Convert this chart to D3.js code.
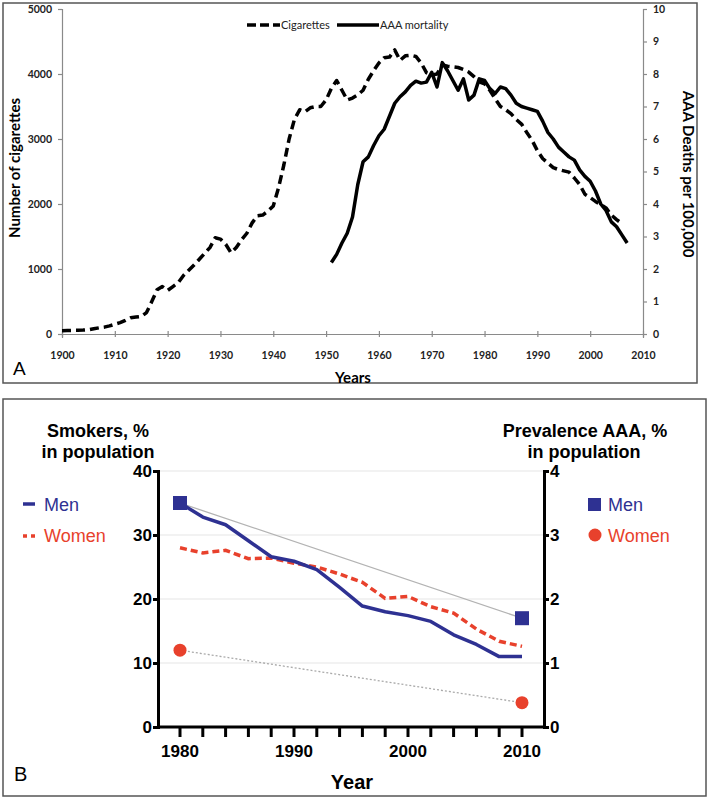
<!DOCTYPE html>
<html><head><meta charset="utf-8">
<script src="https://cdn.jsdelivr.net/npm/d3@7"></script>
<style>body{margin:0;background:#fff;} svg{display:block;}</style>
</head><body>
<svg id="c" width="709" height="800"></svg>
<script>
// ---------- Panel A data ----------
const cigStartYear = 1900;
const cigarettes = [50,52,55,57,60,65,80,95,105,125,150,175,210,250,260,270,330,500,680,730,
  670,730,790,900,980,1060,1150,1240,1330,1480,1460,1380,1250,1330,1450,1550,1710,1820,1830,1890,
  1970,2250,2600,3000,3300,3450,3420,3480,3500,3500,3600,3780,3900,3750,3600,3630,3680,3750,3920,4050,
  4170,4250,4260,4370,4210,4280,4290,4270,4170,4020,3985,4000,4140,4120,4110,4100,4070,4030,3960,3880,
  3850,3750,3620,3500,3450,3390,3300,3230,3100,2980,2820,2700,2630,2560,2530,2510,2490,2400,2300,2150,
  2100,2040,1990,1940,1830,1760,1700];
const aaaStartYear = 1951;
const aaaMortality = [2.2,2.45,2.8,3.1,3.6,4.6,5.3,5.45,5.8,6.1,6.3,6.7,7.1,7.3,7.45,7.65,7.78,7.72,7.75,8.05,
  7.6,8.35,8.1,7.8,7.5,7.85,7.2,7.35,7.85,7.8,7.55,7.4,7.6,7.55,7.35,7.1,7.0,6.95,6.9,6.85,
  6.55,6.2,6.0,5.75,5.6,5.45,5.35,5.05,4.85,4.7,4.4,4.0,3.8,3.45,3.3,3.05,2.8];
const aYearTicks = [1900,1910,1920,1930,1940,1950,1960,1970,1980,1990,2000,2010];
const aLeftTicks = [0,1000,2000,3000,4000,5000];
const aRightTicks = [0,1,2,3,4,5,6,7,8,9,10];

// ---------- Panel B data ----------
const bYears = [1980,1982,1984,1986,1988,1990,1992,1994,1996,1998,2000,2002,2004,2006,2008,2010];
const smokersMen   = [35,32.8,31.6,29.1,26.6,25.9,24.6,21.8,18.9,18.0,17.4,16.5,14.4,12.9,11,11];
const smokersWomen = [28,27.2,27.6,26.3,26.4,25.6,25.0,23.9,22.6,20.1,20.4,18.8,17.8,15.3,13.4,12.6];
const prevYears = [1980,2010];
const prevMen   = [3.5,1.7];
const prevWomen = [1.2,0.38];
const bXTicks = [1980,1990,2000,2010];
const bMinorTicks = [1980,1982,1984,1986,1988,1990,1992,1994,1996,1998,2000,2002,2004,2006,2008,2010];
const bLeftTicks = [0,10,20,30,40];
const bRightTicks = [0,1,2,3,4];

const svg = d3.select("#c");
const navy = "#2e3192", red = "#e8412c";

// ================= Panel A =================
svg.append("rect").attr("x",3).attr("y",3).attr("width",694).attr("height",380)
  .attr("fill","none").attr("stroke","#555").attr("stroke-width",1.5);

const ax = d3.scaleLinear().domain([1900,2010]).range([62,643]);
const ayL = d3.scaleLinear().domain([0,5000]).range([334,9]);
const ayR = d3.scaleLinear().domain([0,10]).range([334,9]);
const fA = "Lato, 'Open Sans', sans-serif";

const gA = svg.append("g");
const axisStyle = g => {
  g.selectAll("path,line").attr("stroke","#8a8a8a").attr("stroke-width",1.2);
  g.selectAll("text").attr("fill","#222").attr("font-family",fA).attr("font-weight","bold").attr("font-size",10.5);
};
gA.append("g").attr("transform","translate(0,334)")
  .call(d3.axisBottom(ax).tickValues(aYearTicks).tickFormat(d3.format("d")).tickSizeOuter(0).tickSize(4).tickPadding(14))
  .call(axisStyle).call(g=>g.selectAll(".tick line").attr("y1",-3).attr("y2",3));
gA.append("g").attr("transform","translate(62,0)")
  .call(d3.axisLeft(ayL).tickValues(aLeftTicks).tickFormat(d3.format("d")).tickSizeOuter(0).tickSize(4).tickPadding(6))
  .call(axisStyle);
gA.append("g").attr("transform","translate(643,0)")
  .call(d3.axisRight(ayR).tickValues(aRightTicks).tickFormat(d3.format("d")).tickSizeOuter(0).tickSize(4).tickPadding(6))
  .call(axisStyle);

const cigData = cigarettes.map((v,i)=>({x:cigStartYear+i,y:v}));
const aaaData = aaaMortality.map((v,i)=>({x:aaaStartYear+i,y:v}));
gA.append("path").datum(cigData)
  .attr("d",d3.line().x(d=>ax(d.x)).y(d=>ayL(d.y)))
  .attr("fill","none").attr("stroke","#000").attr("stroke-width",3.5)
  .attr("stroke-dasharray","9,5").attr("stroke-linejoin","round");
gA.append("path").datum(aaaData)
  .attr("d",d3.line().x(d=>ax(d.x)).y(d=>ayR(d.y)))
  .attr("fill","none").attr("stroke","#000").attr("stroke-width",3.5).attr("stroke-linejoin","round");

// legend A
gA.append("line").attr("x1",247).attr("x2",280).attr("y1",25).attr("y2",25)
  .attr("stroke","#000").attr("stroke-width",3.5).attr("stroke-dasharray","9,4");
gA.append("text").attr("x",281).attr("y",29).text("Cigarettes")
  .attr("font-family",fA).attr("font-size",11).attr("fill","#222");
gA.append("line").attr("x1",337).attr("x2",379).attr("y1",25).attr("y2",25)
  .attr("stroke","#000").attr("stroke-width",3.5);
gA.append("text").attr("x",380).attr("y",29).text("AAA mortality")
  .attr("font-family",fA).attr("font-size",11).attr("fill","#222");

gA.append("text").attr("transform","translate(20,168) rotate(-90)").attr("text-anchor","middle")
  .text("Number of cigarettes").attr("font-family",fA).attr("font-weight","bold").attr("font-size",15);
gA.append("text").attr("transform","translate(683,174) rotate(90)").attr("text-anchor","middle")
  .text("AAA Deaths per 100,000").attr("font-family",fA).attr("font-weight","bold").attr("font-size",15);
gA.append("text").attr("x",353).attr("y",383).attr("text-anchor","middle")
  .text("Years").attr("font-family",fA).attr("font-weight","bold").attr("font-size",15);
gA.append("text").attr("x",13).attr("y",375).text("A")
  .attr("font-family","'Liberation Sans', Arial, sans-serif").attr("font-size",19);

// ================= Panel B =================
svg.append("rect").attr("x",3).attr("y",399).attr("width",703).attr("height",397)
  .attr("fill","none").attr("stroke","#555").attr("stroke-width",1.5);

const fB = "'Liberation Sans', Arial, sans-serif";
const bx = d3.scaleLinear().domain([1980,2010]).range([180,522]);
const byL = d3.scaleLinear().domain([0,40]).range([727,471]);
const byR = d3.scaleLinear().domain([0,4]).range([727,471]);
const gB = svg.append("g");

// gridlines
gB.selectAll(".grid").data(bLeftTicks.filter(d=>d>0)).join("line")
  .attr("x1",158).attr("x2",544).attr("y1",d=>byL(d)).attr("y2",d=>byL(d))
  .attr("stroke","#e6e6e6").attr("stroke-width",1.2);

const axisB = g => {
  g.selectAll("path,line").attr("stroke","#000").attr("stroke-width",3);
  g.selectAll("text").attr("fill","#000").attr("font-family",fB).attr("font-weight","bold").attr("font-size",17);
};
// x axis baseline
gB.append("line").attr("x1",158).attr("x2",544).attr("y1",727).attr("y2",727)
  .attr("stroke","#000").attr("stroke-width",3);
gB.selectAll(".mt").data(bMinorTicks).join("line")
  .attr("x1",d=>bx(d)).attr("x2",d=>bx(d)).attr("y1",727).attr("y2",737)
  .attr("stroke","#000").attr("stroke-width",3);
gB.selectAll(".xl").data(bXTicks).join("text")
  .attr("x",d=>bx(d)).attr("y",757).attr("text-anchor","middle").text(d=>d)
  .attr("font-family",fB).attr("font-weight","bold").attr("font-size",17);

gB.append("g").attr("transform","translate(158,0)")
  .call(d3.axisLeft(byL).tickValues(bLeftTicks).tickFormat(d3.format("d")).tickSizeOuter(0).tickSize(5).tickPadding(1))
  .call(axisB);
gB.append("g").attr("transform","translate(544,0)")
  .call(d3.axisRight(byR).tickValues(bRightTicks).tickFormat(d3.format("d")).tickSizeOuter(0).tickSize(5).tickPadding(1))
  .call(axisB);

// prevalence connectors
const pm = prevYears.map((y,i)=>({x:y,y:prevMen[i]}));
const pw = prevYears.map((y,i)=>({x:y,y:prevWomen[i]}));
const lineR = d3.line().x(d=>bx(d.x)).y(d=>byR(d.y));
gB.append("path").datum(pm).attr("d",lineR).attr("stroke","#b3b3b3").attr("stroke-width",1.3).attr("fill","none");
gB.append("path").datum(pw).attr("d",lineR).attr("stroke","#aaaaaa").attr("stroke-width",1.3)
  .attr("stroke-dasharray","2,2").attr("fill","none");

// smokers lines
const lineL = d3.line().x(d=>bx(d.x)).y(d=>byL(d.y));
gB.append("path").datum(bYears.map((y,i)=>({x:y,y:smokersWomen[i]}))).attr("d",lineL)
  .attr("stroke",red).attr("stroke-width",3.5).attr("stroke-dasharray","7,4").attr("fill","none");
gB.append("path").datum(bYears.map((y,i)=>({x:y,y:smokersMen[i]}))).attr("d",lineL)
  .attr("stroke",navy).attr("stroke-width",3.5).attr("fill","none").attr("stroke-linejoin","round");

// markers
gB.selectAll(".sq").data(pm).join("rect")
  .attr("x",d=>bx(d.x)-7).attr("y",d=>byR(d.y)-7).attr("width",14).attr("height",14).attr("fill",navy);
gB.selectAll(".ci").data(pw).join("circle")
  .attr("cx",d=>bx(d.x)).attr("cy",d=>byR(d.y)).attr("r",6.5).attr("fill",red);

// titles
const tB = (x,y,t)=>gB.append("text").attr("x",x).attr("y",y).attr("text-anchor","middle").text(t)
  .attr("font-family",fB).attr("font-weight","bold").attr("font-size",18);
tB(98,437,"Smokers, %"); tB(98,458,"in population");
tB(585,437,"Prevalence AAA, %"); tB(584,458,"in population");
gB.append("text").attr("x",352).attr("y",789).attr("text-anchor","middle").text("Year")
  .attr("font-family",fB).attr("font-weight","bold").attr("font-size",20);
gB.append("text").attr("x",14).attr("y",781).text("B").attr("font-family",fB).attr("font-size",20);

// legends B
gB.append("line").attr("x1",23).attr("x2",35).attr("y1",504).attr("y2",504).attr("stroke",navy).attr("stroke-width",3.5);
gB.append("text").attr("x",44).attr("y",511).text("Men").attr("fill",navy).attr("font-family",fB).attr("font-size",18);
gB.append("line").attr("x1",23).attr("x2",37).attr("y1",536).attr("y2",536).attr("stroke",red).attr("stroke-width",3.5).attr("stroke-dasharray","4,4");
gB.append("text").attr("x",44).attr("y",542).text("Women").attr("fill",red).attr("font-family",fB).attr("font-size",18);
gB.append("rect").attr("x",588).attr("y",498).attr("width",13).attr("height",13).attr("fill",navy);
gB.append("text").attr("x",608).attr("y",511).text("Men").attr("fill",navy).attr("font-family",fB).attr("font-size",18);
gB.append("circle").attr("cx",595).attr("cy",535).attr("r",6.5).attr("fill",red);
gB.append("text").attr("x",608).attr("y",542).text("Women").attr("fill",red).attr("font-family",fB).attr("font-size",18);
</script>
</body></html>
